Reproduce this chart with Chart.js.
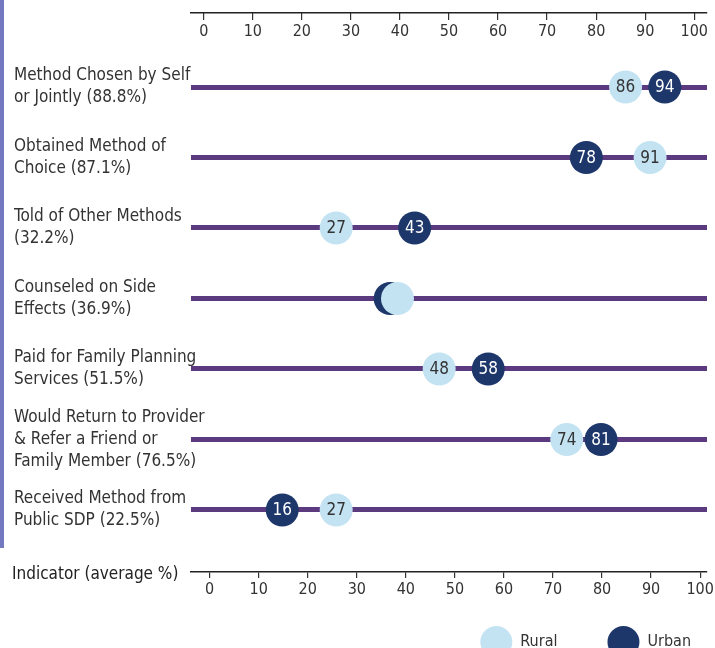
<!DOCTYPE html>
<html>
<head>
<meta charset="utf-8">
<script src="https://cdn.jsdelivr.net/npm/chart.js@4"></script>
<style>
  html, body { margin: 0; padding: 0; overflow: hidden; background: #fff; }
  #wrap { width: 749px; height: 668px; }
</style>
</head>
<body>
<div id="wrap"><canvas id="dotChart"></canvas></div>
<script>
// indicators, top to bottom
const indicators = [
  ['Method Chosen by Self', 'or Jointly (88.8%)'],
  ['Obtained Method of', 'Choice (87.1%)'],
  ['Told of Other Methods', '(32.2%)'],
  ['Counseled on Side', 'Effects (36.9%)'],
  ['Paid for Family Planning', 'Services (51.5%)'],
  ['Would Return to Provider', '& Refer a Friend or', 'Family Member (76.5%)'],
  ['Received Method from', 'Public SDP (22.5%)']
]
const rural = [86, 91, 27, 39.5, 48, 74, 27]
const urban = [94, 78, 43, 38, 58, 81, 16]
const xTicks = [0, 10, 20, 30, 40, 50, 60, 70, 80, 90, 100]

const RURAL = '#c3e3f2'
const URBAN = '#1e376b'
const PURPLE = '#5b3a80'
const INK = '#333333'
const FONT = "'DejaVu Sans Condensed', 'Liberation Sans Narrow', sans-serif"

Chart.defaults.font.family = FONT
Chart.defaults.color = INK

const setTicks = (values) => (scale) => { scale.ticks = values.map(v => ({ value: v })) }
const noPad = (s) => { s.paddingTop = 0; s.paddingBottom = 0; s.paddingLeft = 0; s.paddingRight = 0 }

// value labels inside the dots (hidden where the two dots overlap)
const dotLabels = {
  id: 'dotLabels',
  afterDatasetsDraw(chart) {
    const ctx = chart.ctx
    ctx.save()
    ctx.font = '17px ' + FONT
    ctx.textAlign = 'center'
    ctx.textBaseline = 'middle'
    chart.data.datasets.forEach((ds, di) => {
      chart.getDatasetMeta(di).data.forEach((pt, i) => {
        if (Math.abs(rural[i] - urban[i]) < 5) return
        ctx.fillStyle = di === 0 ? INK : '#ffffff'
        ctx.fillText(String(ds.data[i].x), pt.x, pt.y + 1)
      })
    })
    ctx.restore()
  }
}

// side bar and the bottom axis caption
const decor = {
  id: 'decor',
  beforeDraw(chart) {
    const ctx = chart.ctx
    ctx.save()
    ctx.fillStyle = '#7279c0'
    ctx.fillRect(0, 0, 4, 548)
    ctx.restore()
  },
  afterDraw(chart) {
    const ctx = chart.ctx
    ctx.save()
    ctx.font = '17px ' + FONT
    ctx.fillStyle = '#222'
    ctx.textBaseline = 'middle'
    ctx.fillText('Indicator (average %)', 12, chart.chartArea.bottom + 3)
    ctx.restore()
  }
}

const ctxDot = document.getElementById('dotChart')
window.dotChart = new Chart(ctxDot, {
  type: 'scatter',
  data: {
    datasets: [
      {
        label: 'Rural',
        data: rural.map((v, i) => ({ x: v, y: i })),
        backgroundColor: RURAL,
        borderWidth: 0,
        pointRadius: 16.5,
        pointHoverRadius: 16.5
      },
      {
        label: 'Urban',
        data: urban.map((v, i) => ({ x: v, y: i })),
        backgroundColor: URBAN,
        borderWidth: 0,
        pointRadius: 16.5,
        pointHoverRadius: 16.5
      }
    ]
  },
  options: {
    responsive: true,
    maintainAspectRatio: false,
    animation: false,
    layout: { autoPadding: false, padding: { left: 14, right: 8, top: 0, bottom: 0 } },
    scales: {
      x: {
        type: 'linear',
        position: 'top',
        min: -2.6,
        max: 102.6,
        afterBuildTicks: setTicks(xTicks),
        afterFit(s) { s.height = 13; noPad(s) },
        grid: { display: true, drawOnChartArea: false, tickLength: -7, color: '#333', lineWidth: 1.2 },
        border: { display: true, color: '#222', width: 1.5 },
        ticks: { mirror: true, padding: 9, font: { size: 16 }, color: INK, maxRotation: 0 }
      },
      x2: {
        type: 'linear',
        position: 'bottom',
        min: -3.8,
        max: 101.4,
        afterBuildTicks: setTicks(xTicks),
        afterFit(s) { s.height = 4; noPad(s) },
        grid: { display: true, drawOnChartArea: false, tickLength: 6, color: '#333', lineWidth: 1.2 },
        border: { display: true, color: '#222', width: 1.5 },
        ticks: { mirror: true, padding: -27, font: { size: 16 }, color: INK, maxRotation: 0 }
      },
      y: {
        type: 'linear',
        reverse: true,
        min: -1.05,
        max: 6.88,
        afterBuildTicks: setTicks(indicators.map((_, i) => i)),
        afterFit(s) { s.width = 177; noPad(s) },
        grid: { color: PURPLE, lineWidth: 5, drawTicks: false },
        border: { display: false },
        ticks: {
          mirror: true,
          padding: -177,
          crossAlign: 'near',
          font: { size: 17, lineHeight: 1.3 },
          color: INK,
          callback: (v) => indicators[v]
        }
      },
      // spacer so the legend can sit further right than the plot
      yR: {
        type: 'linear',
        position: 'right',
        display: true,
        grid: { display: false },
        border: { display: false },
        ticks: { display: false },
        afterFit(s) { s.width = 34; noPad(s) }
      }
    },
    plugins: {
      legend: {
        position: 'bottom',
        align: 'end',
        labels: {
          boxWidth: 32,
          boxHeight: 32,
          useBorderRadius: true,
          borderRadius: 16,
          padding: 50,
          color: INK,
          font: { size: 16 }
        }
      },
      tooltip: { enabled: false }
    }
  },
  plugins: [dotLabels, decor]
})
</script>
</body>
</html>
